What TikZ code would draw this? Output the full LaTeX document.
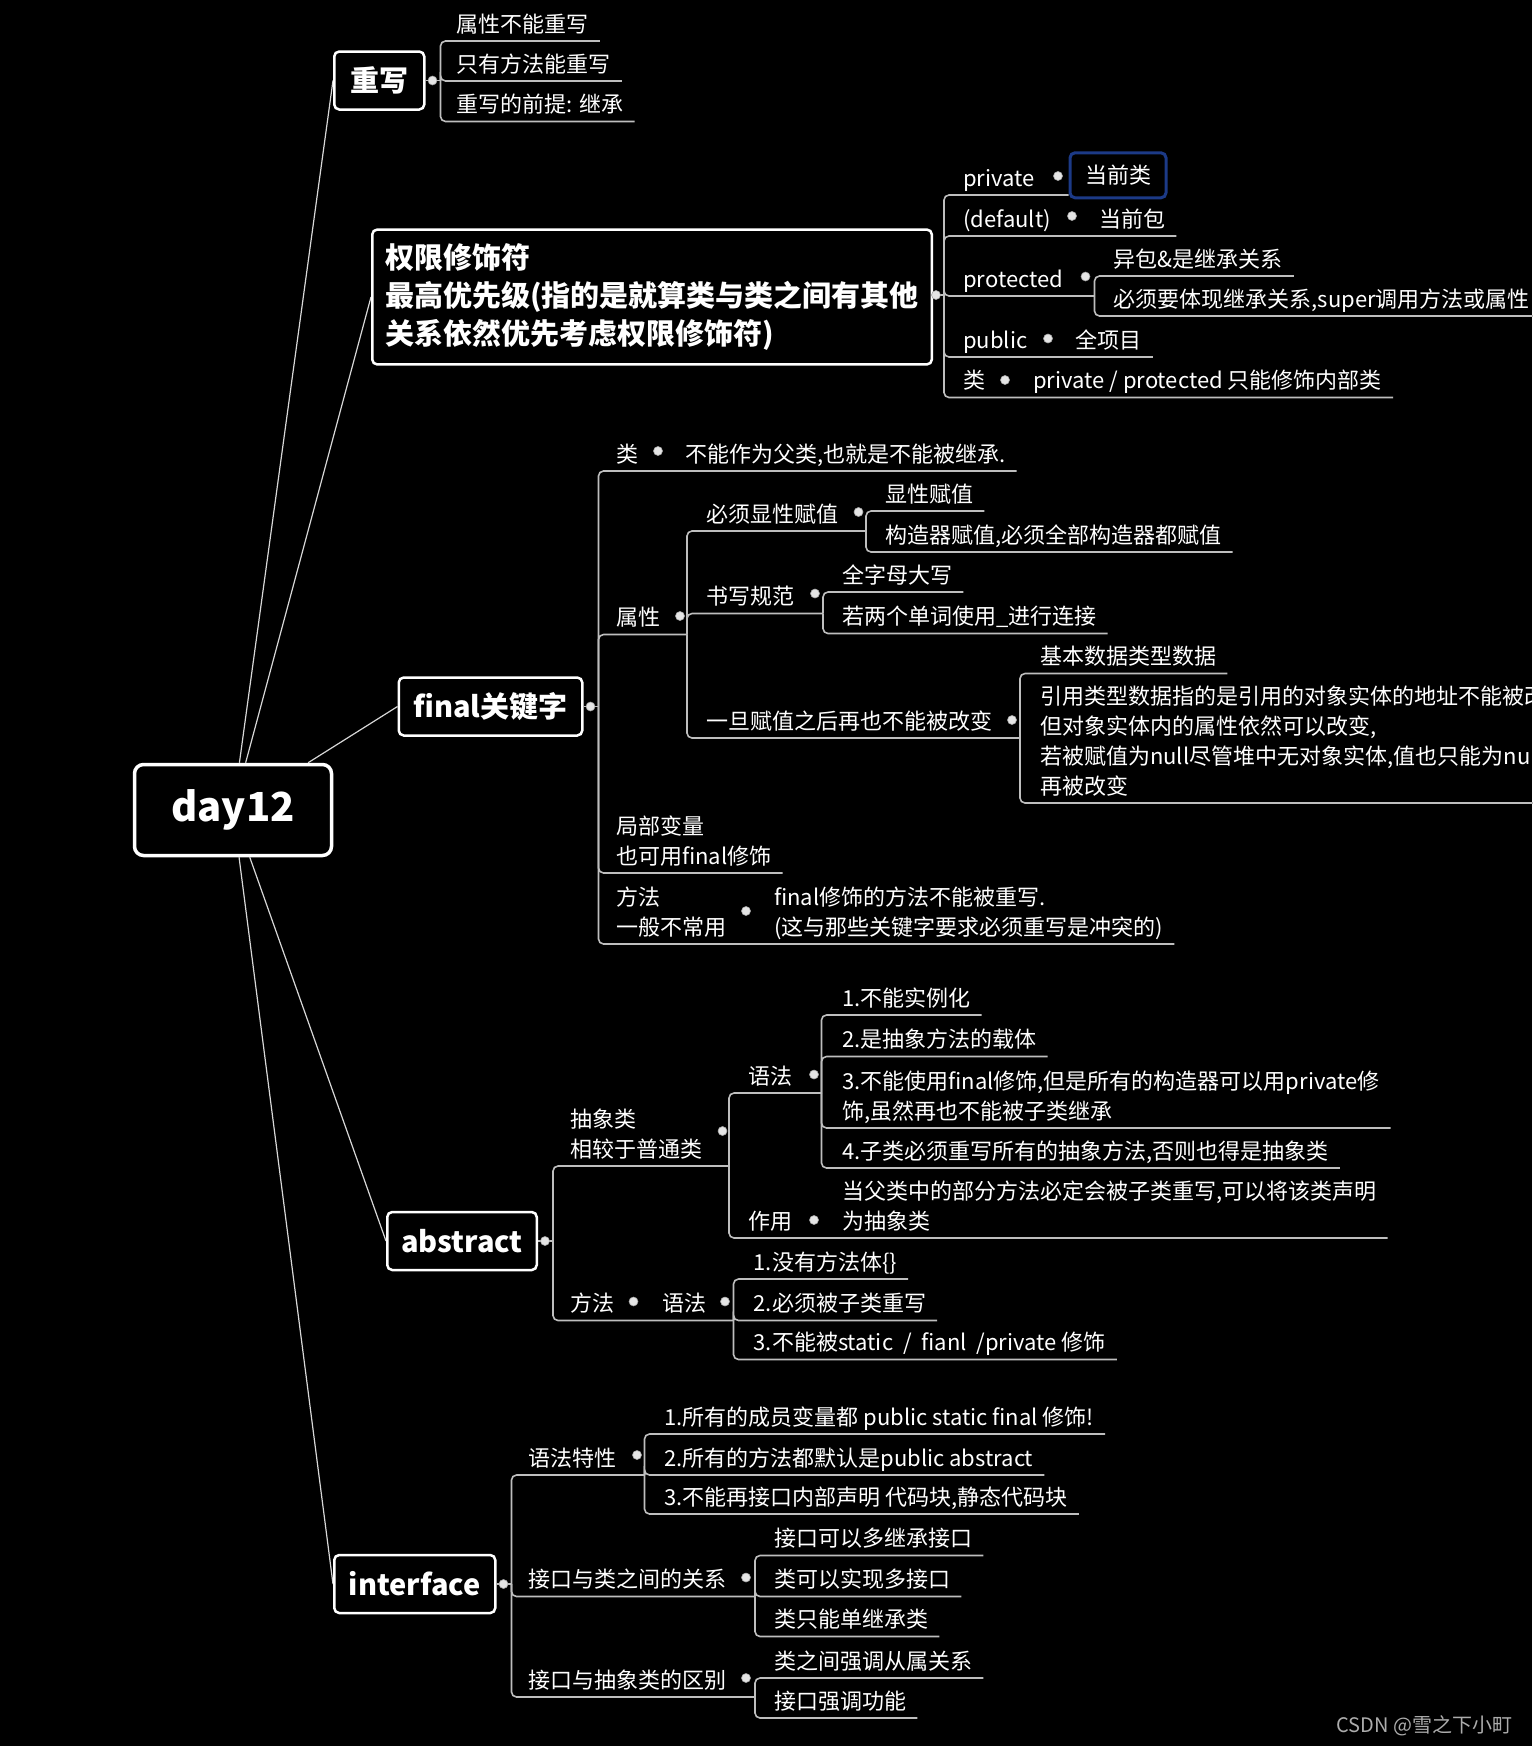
\documentclass[tikz,border=0pt]{standalone}
\usepackage{fontspec}
\setmainfont{Noto Sans CJK SC}
\usetikzlibrary{backgrounds}

\definecolor{selblue}{RGB}{28,58,135}
\definecolor{linegray}{RGB}{190,190,190}
\definecolor{trunkgray}{RGB}{215,215,215}

\begin{document}
\begin{tikzpicture}[x=1pt, y=-1pt, text=white,
    font=\fontsize{22}{30}\selectfont,
    root/.style={draw=white, line width=3.5pt, rounded corners=9pt,
                 minimum width=197pt, minimum height=91pt,
                 font=\fontsize{40}{46}\selectfont\bfseries},
    topic/.style={draw=white, line width=2.5pt, rounded corners=5pt, anchor=west,
                  align=left, inner xsep=13pt, inner ysep=14pt, minimum height=58pt,
                  font=\fontsize{29}{38}\selectfont\bfseries},
    sub/.style={anchor=south west, align=left, inner xsep=11pt, inner ysep=0pt,
                text depth=8.5pt},
    selbox/.style={draw=selblue, line width=3pt, rounded corners=5pt,
                   minimum width=96pt, minimum height=45pt},
    dotc/.style={circle, fill=gray!20, draw=gray!70, line width=0.6pt,
                 inner sep=0pt, minimum size=9pt},
    trunk/.style={draw=trunkgray, line width=1.2pt},
    uline/.style={draw=linegray, line width=1.6pt, rounded corners=5pt},
  ]
  \useasboundingbox (0,0) rectangle (1532,1746);

  \node[root] (day) at (233,810) {day12};

  % 重写
  \node[topic, minimum width=90pt] (rw) at (333,80.5) {重写};
  \node[dotc] (d-rw) at ([xshift=7pt]rw.east) {};
  \coordinate (b-rw) at ([xshift=15pt]rw.east);
  \node[sub] (rw1) at (445.5,41) {属性不能重写};
  \node[sub] (rw2) at (445.5,81) {只有方法能重写};
  \node[sub] (rw3) at (445.5,121.5) {重写的前提: 继承};

  % 权限修饰符
  \node[topic, minimum width=558pt] (acc) at (371,297)
    {权限修饰符\\最高优先级(指的是就算类与类之间有其他\\关系依然优先考虑权限修饰符)};
  \node[dotc] (d-acc) at (936,295) {};
  \coordinate (b-acc) at (944,295);
  \node[sub] (pri) at (952,195) {private};
  \node[dotc] (d-pri) at (1058,176) {};
  \node[selbox] (cur) at (1118,175.3) {当前类};
  \node[sub] (def) at (952,236) {(default)};
  \node[dotc] (d-def) at (1072,216) {};
  \node[sub] (defc) at (1088,236) {当前包};
  \node[sub] (pro) at (952,296) {protected};
  \node[dotc] (d-pro) at (1085.5,276.5) {};
  \coordinate (b-pro) at (1094.5,296);
  \node[sub] (pro1) at (1102.5,276) {异包\&是继承关系};
  \node[sub] (pro2) at (1102.5,316) {必须要体现继承关系,super调用方法或属性};
  \node[sub] (pub) at (952,357) {public};
  \node[dotc] (d-pub) at (1048,338.5) {};
  \node[sub] (pubc) at (1064.5,357) {全项目};
  \node[sub] (cls) at (952,397.5) {类};
  \node[dotc] (d-cls) at (1005,380) {};
  \node[sub] (clsc) at (1022,397.5) {private / protected 只能修饰内部类};

  % final关键字
  \node[topic, minimum width=183.5pt] (fin) at (397.5,706.5) {final关键字};
  \node[dotc] (d-fin) at ([xshift=7pt]fin.east) {};
  \coordinate (b-fin) at ([xshift=15pt]fin.east);
  \node[sub] (fcls) at (605,471) {类};
  \node[dotc] (d-fcls) at (658,451) {};
  \node[sub] (fclsc) at (674,471) {不能作为父类,也就是不能被继承.};
  \node[sub] (fatt) at (605,634.5) {属性};
  \node[dotc] (d-fatt) at (680,616) {};
  \coordinate (b-fatt) at (687,634.5);
  \node[sub] (exp) at (695,531) {必须显性赋值};
  \node[dotc] (d-exp) at (858.5,512) {};
  \coordinate (b-exp) at (866,531);
  \node[sub] (exp1) at (874,511) {显性赋值};
  \node[sub] (exp2) at (874,552) {构造器赋值,必须全部构造器都赋值};
  \node[sub] (nam) at (695,613.5) {书写规范};
  \node[dotc] (d-nam) at (815,593.5) {};
  \coordinate (b-nam) at (823,613.5);
  \node[sub] (nam1) at (831,592) {全字母大写};
  \node[sub] (nam2) at (831,633.5) {若两个单词使用\_进行连接};
  \node[sub] (imm) at (695,738) {一旦赋值之后再也不能被改变};
  \node[dotc] (d-imm) at (1012,720) {};
  \coordinate (b-imm) at (1020,738);
  \node[sub] (imm1) at (1029,673.5) {基本数据类型数据};
  \node[sub] (imm2) at (1029,803)
    {引用类型数据指的是引用的对象实体的地址不能被改\\但对象实体内的属性依然可以改变,\\若被赋值为null尽管堆中无对象实体,值也只能为null\\再被改变};
  \node[sub] (floc) at (605,873) {局部变量\\也可用final修饰};
  \node[sub] (fmet) at (605,944) {方法\\一般不常用};
  \node[dotc] (d-fmet) at (746,911) {};
  \node[sub] (fmetc) at (763,944) {final修饰的方法不能被重写.\\(这与那些关键字要求必须重写是冲突的)};

  % abstract
  \node[topic, minimum width=149.5pt] (abs) at (386,1241) {abstract};
  \node[dotc] (d-abs) at ([xshift=7pt]abs.east) {};
  \coordinate (b-abs) at ([xshift=15pt]abs.east);
  \node[sub] (acl) at (559,1166) {抽象类\\相较于普通类};
  \node[dotc] (d-acl) at (722.5,1131) {};
  \coordinate (b-acl) at (729,1166);
  \node[sub] (asyn) at (737,1093) {语法};
  \node[dotc] (d-asyn) at (814,1074.5) {};
  \coordinate (b-asyn) at (821.5,1093);
  \node[sub] (asyn1) at (831,1015) {1.不能实例化};
  \node[sub] (asyn2) at (831,1056.5) {2.是抽象方法的载体};
  \node[sub] (asyn3) at (831,1128) {3.不能使用final修饰,但是所有的构造器可以用private修\\饰,虽然再也不能被子类继承};
  \node[sub] (asyn4) at (831,1168) {4.子类必须重写所有的抽象方法,否则也得是抽象类};
  \node[sub] (ause) at (737,1238) {作用};
  \node[dotc] (d-ause) at (814,1220) {};
  \node[sub] (ausec) at (831,1238) {当父类中的部分方法必定会被子类重写,可以将该类声明\\为抽象类};
  \node[sub] (amet) at (559,1320.5) {方法};
  \node[dotc] (d-amet) at (633.5,1301.5) {};
  \node[sub] (amsyn) at (651.5,1320.5) {语法};
  \node[dotc] (d-amsyn) at (725,1301.5) {};
  \coordinate (b-amsyn) at (733.5,1320.5);
  \node[sub] (am1) at (742.5,1279) {1.没有方法体\{\}};
  \node[sub] (am2) at (742.5,1320.5) {2.必须被子类重写};
  \node[sub] (am3) at (742.5,1359.5) {3.不能被static\ \ /\ \ fianl\ \ /private 修饰};

  % interface
  \node[topic, minimum width=161pt] (itf) at (333,1584) {interface};
  \node[dotc] (d-itf) at ([xshift=7pt]itf.east) {};
  \coordinate (b-itf) at ([xshift=15pt]itf.east);
  \node[sub] (isyn) at (517,1475) {语法特性};
  \node[dotc] (d-isyn) at (637,1455) {};
  \coordinate (b-isyn) at (644.5,1475);
  \node[sub] (isyn1) at (653,1434) {1.所有的成员变量都 public static final 修饰!};
  \node[sub] (isyn2) at (653,1475) {2.所有的方法都默认是public abstract};
  \node[sub] (isyn3) at (653,1514) {3.不能再接口内部声明 代码块,静态代码块};
  \node[sub] (irel) at (517,1596.5) {接口与类之间的关系};
  \node[dotc] (d-irel) at (746,1577.5) {};
  \coordinate (b-irel) at (755,1596.5);
  \node[sub] (irel1) at (763,1555.5) {接口可以多继承接口};
  \node[sub] (irel2) at (763,1596.5) {类可以实现多接口};
  \node[sub] (irel3) at (763,1636.5) {类只能单继承类};
  \node[sub] (idif) at (517,1697) {接口与抽象类的区别};
  \node[dotc] (d-idif) at (746,1678) {};
  \coordinate (b-idif) at (755,1697);
  \node[sub] (idif1) at (763,1678) {类之间强调从属关系};
  \node[sub] (idif2) at (763,1718) {接口强调功能};

  \node[anchor=east, text=gray!65, font=\fontsize{20}{24}\selectfont] (mark)
    at (1516,1726) {CSDN @雪之下小町};

  \begin{scope}[on background layer]
    \fill[black] (0,0) rectangle (1532,1746);
    \foreach \t in {rw,acc,fin,abs,itf}
      \draw[trunk] (day) -- (\t.west);
    % 重写
    \draw[uline] (rw.east) -- (b-rw);
    \foreach \c in {rw1,rw2,rw3}
      \draw[uline] (b-rw) |- (\c.south east);
    % 权限修饰符
    \draw[uline] (acc.east |- b-acc) -- (b-acc);
    \draw[uline] (b-acc) |- (pri.south -| cur.west);
    \foreach \e in {defc.south east, b-pro, pubc.south east, clsc.south east}
      \draw[uline] (b-acc) |- (\e);
    \foreach \c in {pro1,pro2}
      \draw[uline] (b-pro) |- (\c.south east);
    % final
    \draw[uline] (fin.east) -- (b-fin);
    \foreach \e in {fclsc.south east, b-fatt, floc.south east, fmetc.south east}
      \draw[uline] (b-fin) |- (\e);
    \foreach \e in {b-exp, b-nam, b-imm}
      \draw[uline] (b-fatt) |- (\e);
    \foreach \c in {exp1,exp2}
      \draw[uline] (b-exp) |- (\c.south east);
    \foreach \c in {nam1,nam2}
      \draw[uline] (b-nam) |- (\c.south east);
    \foreach \c in {imm1,imm2}
      \draw[uline] (b-imm) |- (\c.south east);
    % abstract
    \draw[uline] (abs.east) -- (b-abs);
    \foreach \e in {b-acl, b-amsyn}
      \draw[uline] (b-abs) |- (\e);
    \foreach \e in {b-asyn, ausec.south east}
      \draw[uline] (b-acl) |- (\e);
    \foreach \c in {asyn1,asyn2,asyn3,asyn4}
      \draw[uline] (b-asyn) |- (\c.south east);
    \foreach \c in {am1,am2,am3}
      \draw[uline] (b-amsyn) |- (\c.south east);
    % interface
    \draw[uline] (itf.east) -- (b-itf);
    \foreach \e in {b-isyn, b-irel, b-idif}
      \draw[uline] (b-itf) |- (\e);
    \foreach \c in {isyn1,isyn2,isyn3}
      \draw[uline] (b-isyn) |- (\c.south east);
    \foreach \c in {irel1,irel2,irel3}
      \draw[uline] (b-irel) |- (\c.south east);
    \foreach \c in {idif1,idif2}
      \draw[uline] (b-idif) |- (\c.south east);
  \end{scope}
\end{tikzpicture}
\end{document}
